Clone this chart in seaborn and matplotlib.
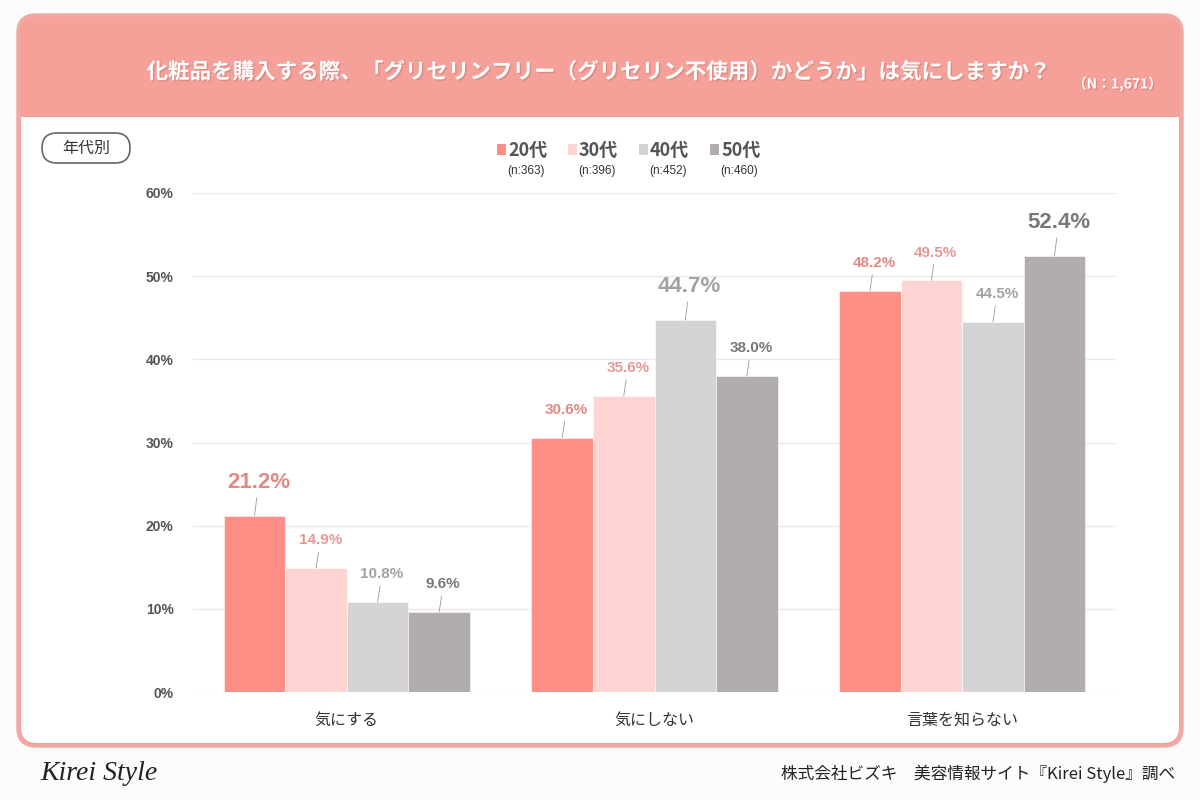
import matplotlib
matplotlib.use("Agg")
import matplotlib.pyplot as plt
import matplotlib.patheffects as pe
import seaborn as sns
import pandas as pd
from matplotlib.patches import FancyBboxPatch, Rectangle
from matplotlib.transforms import IdentityTransform

# ---- data ----
categories = ["気にする", "気にしない", "言葉を知らない"]
ages = ["20代", "30代", "40代", "50代"]
age_n = ["(n:363)", "(n:396)", "(n:452)", "(n:460)"]
v20 = [21.2, 30.6, 48.2]
v30 = [14.9, 35.6, 49.5]
v40 = [10.8, 44.7, 44.5]
v50 = [9.6, 38.0, 52.4]
yticks = [0, 10, 20, 30, 40, 50, 60]
title = "化粧品を購入する際、「グリセリンフリー（グリセリン不使用）かどうか」は気にしますか？"
n_total = "（N：1,671）"
footer_right = "株式会社ビズキ　美容情報サイト『Kirei Style』調べ"
footer_left = "Kirei Style"
badge = "年代別"

bar_colors = ["#FE8F86", "#FDD4D1", "#D6D3D5", "#B1ADAF"]
label_colors = ["#E38983", "#E79893", "#A3A1A2", "#7A7879"]

sns.set_theme(style="white")
plt.rcParams["font.family"] = ["Noto Sans CJK JP", "DejaVu Sans"]

W, H = 1200, 800
fig = plt.figure(figsize=(12, 8), dpi=100)
fig.patch.set_facecolor("#FCFCFC")

def fx(x):
    return x / W

def fy(y):
    return 1 - y / H

# ---- card background ----
ident = IdentityTransform()
card = FancyBboxPatch((18, H - 746), 1164, 731, boxstyle="round,pad=0,rounding_size=18",
                      facecolor="#F5A19A", edgecolor="#F0AAA5", linewidth=2.5,
                      transform=ident, zorder=-5)
fig.add_artist(card)
inner = FancyBboxPatch((21, H - 743), 1158, 626, boxstyle="round,pad=0,rounding_size=16",
                       facecolor="white", edgecolor="none", transform=ident, zorder=-4)
fig.add_artist(inner)
fig.add_artist(Rectangle((21, H - 145), 1158, 28, facecolor="white", edgecolor="none",
                         transform=ident, zorder=-4))

# title
shadow = [pe.withSimplePatchShadow(offset=(1, -1), shadow_rgbFace="#C97A74", alpha=0.6)]
fig.text(fx(598), fy(72), title, ha="center", va="center", color="white",
         fontsize=15.5, fontweight="bold", path_effects=shadow)
fig.text(fx(1162), fy(84), n_total, ha="right", va="center", color="white",
         fontsize=10, fontweight="bold", path_effects=shadow)

# badge
fig.add_artist(FancyBboxPatch((42, H - 163), 88, 30, boxstyle="round,pad=0,rounding_size=15",
                              facecolor="white", edgecolor="#666666", linewidth=1.2,
                              transform=ident, zorder=2))
fig.text(fx(86), fy(148), badge, ha="center", va="center", color="#333333", fontsize=11.5)

# ---- axes ----
ax = fig.add_axes([fx(193), fy(692), fx(1116) - fx(193), fy(193) - fy(692)])
ax.patch.set_alpha(0)

rows = []
for age, vals in zip(ages, [v20, v30, v40, v50]):
    for c, v in zip(categories, vals):
        rows.append({"category": c, "age": age, "value": v})
df = pd.DataFrame(rows)

sns.barplot(data=df, x="category", y="value", hue="age", order=categories, hue_order=ages,
            palette=bar_colors, saturation=1, width=0.8, edgecolor="white", linewidth=0.4,
            errorbar=None, legend=False, ax=ax, zorder=3)

ax.set_ylim(0, 60)
ax.set_xlim(-0.5, 2.5)
ax.set_yticks(yticks)
ax.set_yticklabels([f"{t}%" for t in yticks], fontsize=10, fontweight="bold", color="#555555",
                   family=["Liberation Sans", "DejaVu Sans"])
ax.tick_params(axis="y", length=0, pad=14)
ax.tick_params(axis="x", length=0, pad=14)
ax.set_xticklabels(categories, fontsize=11.5, color="#333333")
ax.set_xlabel("")
ax.set_ylabel("")
ax.grid(axis="y", color="#EFE7E7", linewidth=1, zorder=0)
ax.set_axisbelow(True)
for s in ax.spines.values():
    s.set_visible(False)

# value labels
all_vals = [v20, v30, v40, v50]
for hi, cont in enumerate(ax.containers):
    for ci, bar in enumerate(cont):
        v = all_vals[hi][ci]
        is_max = v == max(vals[ci] for vals in all_vals)
        x = bar.get_x() + bar.get_width() / 2
        fs = 16 if is_max else 11
        dy = 24 if is_max else 20
        ax.annotate(f"{v:.1f}%", xy=(x, v), xytext=(3, dy), textcoords="offset points",
                    ha="center", va="center", fontsize=fs, fontweight="bold",
                    color=label_colors[hi], family=["Liberation Sans", "DejaVu Sans"],
                    arrowprops=dict(arrowstyle="-", color="#9A9A9A", lw=0.6,
                                    shrinkA=1, shrinkB=0),
                    zorder=5)

# ---- legend ----
leg_x = [497, 568, 639, 710]
for i, (age, nn) in enumerate(zip(ages, age_n)):
    x0 = leg_x[i]
    fig.add_artist(Rectangle((x0, H - 155), 9, 11, facecolor=bar_colors[i], edgecolor="none",
                             transform=ident))
    fig.text(fx(x0 + 11), fy(150), age, ha="left", va="center", fontsize=13,
             fontweight="bold", color="#555555")
    fig.text(fx(x0 + 29), fy(171), nn, ha="center", va="center", fontsize=8.5,
             color="#333333", family=["Liberation Sans", "DejaVu Sans"])

# ---- footer ----
fig.text(fx(40), fy(774), footer_left, ha="left", va="center", fontsize=20,
         style="italic", color="#222222", family=["Liberation Serif", "DejaVu Serif"])
fig.text(fx(1175), fy(774), footer_right, ha="right", va="center", fontsize=12,
         color="#222222")

fig.savefig("out.png", dpi=100, facecolor=fig.get_facecolor())
